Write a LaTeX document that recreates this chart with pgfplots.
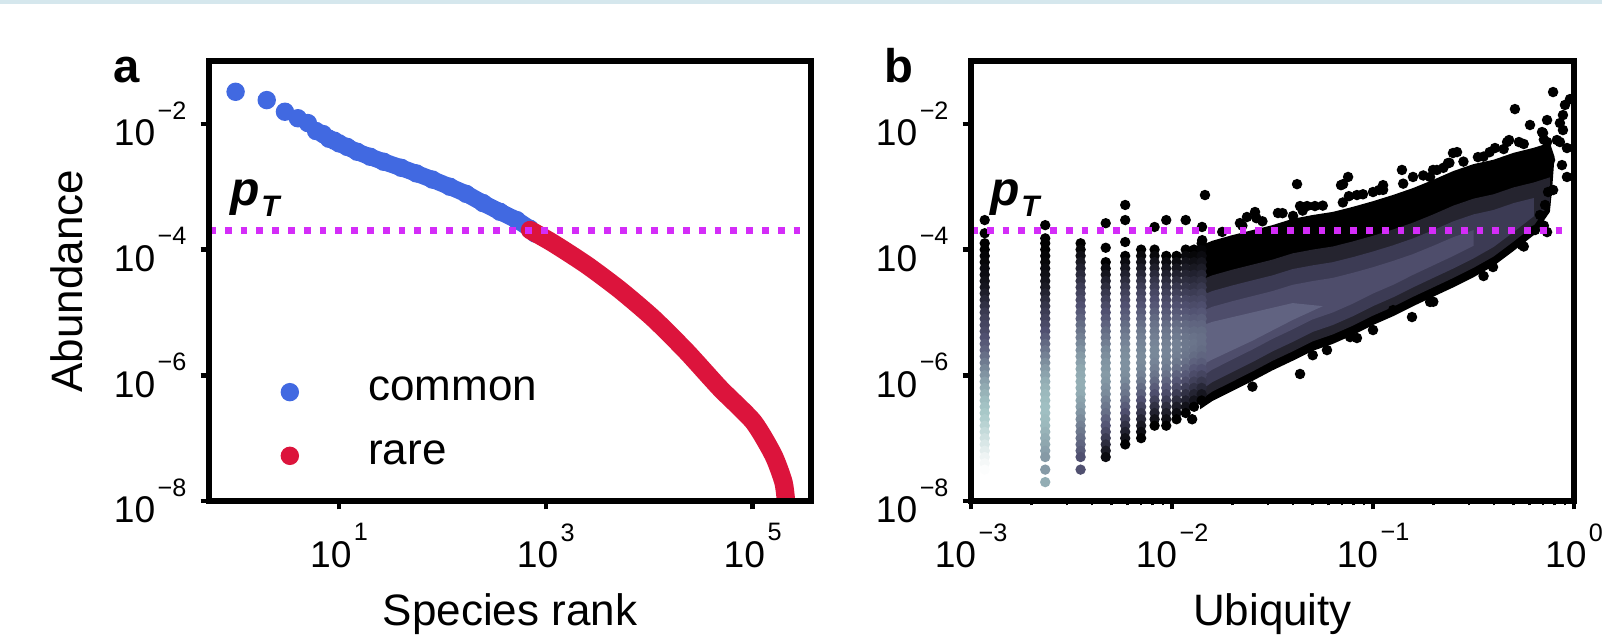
\documentclass[border=0pt]{standalone}
\usepackage{pgfplots}
\pgfplotsset{compat=1.18}
\usepackage{pgfplotstable}
\usepackage{fontspec}
\setmainfont{Liberation Sans}

\definecolor{common}{HTML}{4169E1}
\definecolor{rare}{HTML}{DC143C}
\definecolor{ptline}{HTML}{D42CF8}
\definecolor{topband}{HTML}{D5E7ED}
\definecolor{hexB}{HTML}{25242F}
\definecolor{hexC}{HTML}{3C3B54}
\definecolor{hexD}{HTML}{4E4D6B}
\definecolor{hexE}{HTML}{616381}

% 10 with a raised exponent, as matplotlib sets it
\newcommand{\tl}[1]{10\kern0.6pt\raisebox{6.6pt}{\fontsize{6.3}{6.3}\selectfont #1}}

\tikzset{ptl/.style={ptline, line width=1.75pt, dash pattern=on 1.7pt off 2.25pt}}

% right panel: ubiquity columns k/N (colour value c on the bone map)
\pgfplotstableread{
x y c
0.00117 2.95e-4 0
0.00117 1.82e-4 0
0.00117 1.26e-4 0
0.00117 1.00e-4 0
0.00117 7.94e-5 .02
0.00117 6.31e-5 .03
0.00117 5.01e-5 .05
0.00117 3.98e-5 .06
0.00117 3.16e-5 .08
0.00117 2.51e-5 .10
0.00117 2.00e-5 .14
0.00117 1.58e-5 .18
0.00117 1.26e-5 .22
0.00117 1.00e-5 .26
0.00117 7.94e-6 .29
0.00117 6.31e-6 .31
0.00117 5.01e-6 .33
0.00117 3.98e-6 .36
0.00117 3.16e-6 .39
0.00117 2.51e-6 .42
0.00117 2.00e-6 .46
0.00117 1.58e-6 .50
0.00117 1.26e-6 .54
0.00117 1.00e-6 .58
0.00117 7.94e-7 .62
0.00117 6.31e-7 .65
0.00117 5.01e-7 .68
0.00117 3.98e-7 .71
0.00117 3.16e-7 .73
0.00117 2.51e-7 .75
0.00117 2.00e-7 .77
0.00117 1.58e-7 .80
0.00117 1.26e-7 .83
0.00117 1.00e-7 .86
0.00117 7.94e-8 .89
0.00117 6.31e-8 .92
0.00117 5.01e-8 .95
0.00117 3.98e-8 .97
0.00117 3.16e-8 .99
0.00234 2.45e-4 0
0.00234 1.51e-4 0
0.00234 1.26e-4 0
0.00234 1.00e-4 0
0.00234 7.94e-5 .02
0.00234 6.31e-5 .03
0.00234 5.01e-5 .05
0.00234 3.98e-5 .07
0.00234 3.16e-5 .09
0.00234 2.51e-5 .12
0.00234 2.00e-5 .16
0.00234 1.58e-5 .20
0.00234 1.26e-5 .24
0.00234 1.00e-5 .27
0.00234 7.94e-6 .30
0.00234 6.31e-6 .33
0.00234 5.01e-6 .36
0.00234 3.98e-6 .40
0.00234 3.16e-6 .44
0.00234 2.51e-6 .48
0.00234 2.00e-6 .52
0.00234 1.58e-6 .56
0.00234 1.26e-6 .60
0.00234 1.00e-6 .63
0.00234 7.94e-7 .66
0.00234 6.31e-7 .68
0.00234 5.01e-7 .70
0.00234 3.98e-7 .71
0.00234 3.16e-7 .72
0.00234 2.51e-7 .72
0.00234 2.00e-7 .71
0.00234 1.58e-7 .70
0.00234 1.26e-7 .68
0.00234 1.00e-7 .66
0.00234 7.94e-8 .64
0.00234 6.31e-8 .62
0.00234 5.01e-8 .60
0.00234 3.16e-8 .60
0.00234 2.00e-8 .66
0.00351 1.26e-4 0
0.00351 1.00e-4 .03
0.00351 7.94e-5 .07
0.00351 6.31e-5 .11
0.00351 5.01e-5 .15
0.00351 3.98e-5 .19
0.00351 3.16e-5 .23
0.00351 2.51e-5 .27
0.00351 2.00e-5 .30
0.00351 1.58e-5 .33
0.00351 1.26e-5 .36
0.00351 1.00e-5 .39
0.00351 7.94e-6 .42
0.00351 6.31e-6 .45
0.00351 5.01e-6 .48
0.00351 3.98e-6 .51
0.00351 3.16e-6 .54
0.00351 2.51e-6 .57
0.00351 2.00e-6 .60
0.00351 1.58e-6 .62
0.00351 1.26e-6 .64
0.00351 1.00e-6 .65
0.00351 7.94e-7 .66
0.00351 6.31e-7 .66
0.00351 5.01e-7 .65
0.00351 3.98e-7 .63
0.00351 3.16e-7 .61
0.00351 2.51e-7 .58
0.00351 2.00e-7 .55
0.00351 1.58e-7 .52
0.00351 1.26e-7 .49
0.00351 1.00e-7 .46
0.00351 7.94e-8 .43
0.00351 6.31e-8 .40
0.00351 5.01e-8 .36
0.00351 3.16e-8 .36
0.00468 2.63e-4 0
0.00468 1.07e-4 0
0.00468 6.31e-5 0
0.00468 5.01e-5 .05
0.00468 3.98e-5 .10
0.00468 3.16e-5 .15
0.00468 2.51e-5 .20
0.00468 2.00e-5 .25
0.00468 1.58e-5 .29
0.00468 1.26e-5 .33
0.00468 1.00e-5 .36
0.00468 7.94e-6 .39
0.00468 6.31e-6 .42
0.00468 5.01e-6 .45
0.00468 3.98e-6 .48
0.00468 3.16e-6 .51
0.00468 2.51e-6 .54
0.00468 2.00e-6 .56
0.00468 1.58e-6 .58
0.00468 1.26e-6 .59
0.00468 1.00e-6 .60
0.00468 7.94e-7 .59
0.00468 6.31e-7 .57
0.00468 5.01e-7 .55
0.00468 3.98e-7 .52
0.00468 3.16e-7 .49
0.00468 2.51e-7 .46
0.00468 2.00e-7 .42
0.00468 1.58e-7 .38
0.00468 1.26e-7 .33
0.00468 1.00e-7 .27
0.00468 7.94e-8 .20
0.00468 6.31e-8 .12
0.00468 5.01e-8 .05
0.00585 5.13e-4 0
0.00585 2.95e-4 0
0.00585 1.32e-4 0
0.00585 7.94e-5 0
0.00585 6.31e-5 .05
0.00585 5.01e-5 .10
0.00585 3.98e-5 .15
0.00585 3.16e-5 .20
0.00585 2.51e-5 .25
0.00585 2.00e-5 .29
0.00585 1.58e-5 .33
0.00585 1.26e-5 .36
0.00585 1.00e-5 .39
0.00585 7.94e-6 .42
0.00585 6.31e-6 .45
0.00585 5.01e-6 .48
0.00585 3.98e-6 .51
0.00585 3.16e-6 .53
0.00585 2.51e-6 .55
0.00585 2.00e-6 .56
0.00585 1.58e-6 .57
0.00585 1.26e-6 .57
0.00585 1.00e-6 .56
0.00585 7.94e-7 .54
0.00585 6.31e-7 .51
0.00585 5.01e-7 .48
0.00585 3.98e-7 .44
0.00585 3.16e-7 .40
0.00585 2.51e-7 .35
0.00585 2.00e-7 .29
0.00585 1.58e-7 .22
0.00585 1.26e-7 .15
0.00585 1.00e-7 .08
0.00585 7.94e-8 0
0.00702 1.00e-4 0
0.00702 7.94e-5 .04
0.00702 6.31e-5 .08
0.00702 5.01e-5 .13
0.00702 3.98e-5 .18
0.00702 3.16e-5 .23
0.00702 2.51e-5 .27
0.00702 2.00e-5 .31
0.00702 1.58e-5 .34
0.00702 1.26e-5 .37
0.00702 1.00e-5 .40
0.00702 7.94e-6 .43
0.00702 6.31e-6 .46
0.00702 5.01e-6 .49
0.00702 3.98e-6 .51
0.00702 3.16e-6 .53
0.00702 2.51e-6 .54
0.00702 2.00e-6 .55
0.00702 1.58e-6 .55
0.00702 1.26e-6 .54
0.00702 1.00e-6 .52
0.00702 7.94e-7 .49
0.00702 6.31e-7 .45
0.00702 5.01e-7 .41
0.00702 3.98e-7 .36
0.00702 3.16e-7 .30
0.00702 2.51e-7 .24
0.00702 2.00e-7 .17
0.00702 1.58e-7 .11
0.00702 1.26e-7 .05
0.00702 1.00e-7 0
0.00819 2.29e-4 0
0.00819 1.00e-4 0
0.00819 7.94e-5 .04
0.00819 6.31e-5 .09
0.00819 5.01e-5 .14
0.00819 3.98e-5 .19
0.00819 3.16e-5 .24
0.00819 2.51e-5 .28
0.00819 2.00e-5 .32
0.00819 1.58e-5 .35
0.00819 1.26e-5 .38
0.00819 1.00e-5 .41
0.00819 7.94e-6 .44
0.00819 6.31e-6 .47
0.00819 5.01e-6 .49
0.00819 3.98e-6 .51
0.00819 3.16e-6 .53
0.00819 2.51e-6 .54
0.00819 2.00e-6 .54
0.00819 1.58e-6 .53
0.00819 1.26e-6 .51
0.00819 1.00e-6 .48
0.00819 7.94e-7 .44
0.00819 6.31e-7 .40
0.00819 5.01e-7 .35
0.00819 3.98e-7 .29
0.00819 3.16e-7 .22
0.00819 2.51e-7 .15
0.00819 2.00e-7 .08
0.00819 1.58e-7 0
0.00936 2.95e-4 0
0.00936 7.94e-5 0
0.00936 6.31e-5 .05
0.00936 5.01e-5 .10
0.00936 3.98e-5 .15
0.00936 3.16e-5 .20
0.00936 2.51e-5 .25
0.00936 2.00e-5 .29
0.00936 1.58e-5 .33
0.00936 1.26e-5 .36
0.00936 1.00e-5 .39
0.00936 7.94e-6 .42
0.00936 6.31e-6 .45
0.00936 5.01e-6 .48
0.00936 3.98e-6 .50
0.00936 3.16e-6 .52
0.00936 2.51e-6 .53
0.00936 2.00e-6 .53
0.00936 1.58e-6 .52
0.00936 1.26e-6 .50
0.00936 1.00e-6 .47
0.00936 7.94e-7 .43
0.00936 6.31e-7 .39
0.00936 5.01e-7 .34
0.00936 3.98e-7 .28
0.00936 3.16e-7 .21
0.00936 2.51e-7 .14
0.00936 2.00e-7 .07
0.00936 1.58e-7 0
0.01053 7.94e-5 0
0.01053 6.31e-5 .05
0.01053 5.01e-5 .10
0.01053 3.98e-5 .15
0.01053 3.16e-5 .20
0.01053 2.51e-5 .25
0.01053 2.00e-5 .29
0.01053 1.58e-5 .33
0.01053 1.26e-5 .36
0.01053 1.00e-5 .39
0.01053 7.94e-6 .42
0.01053 6.31e-6 .45
0.01053 5.01e-6 .48
0.01053 3.98e-6 .50
0.01053 3.16e-6 .52
0.01053 2.51e-6 .52
0.01053 2.00e-6 .51
0.01053 1.58e-6 .49
0.01053 1.26e-6 .46
0.01053 1.00e-6 .42
0.01053 7.94e-7 .38
0.01053 6.31e-7 .33
0.01053 5.01e-7 .27
0.01053 3.98e-7 .20
0.01053 3.16e-7 .13
0.01053 2.51e-7 .06
0.01053 2.00e-7 0
0.0117 1.00e-4 0
0.0117 7.94e-5 .04
0.0117 6.31e-5 .08
0.0117 5.01e-5 .12
0.0117 3.98e-5 .16
0.0117 3.16e-5 .20
0.0117 2.51e-5 .24
0.0117 2.00e-5 .28
0.0117 1.58e-5 .32
0.0117 1.26e-5 .35
0.0117 1.00e-5 .38
0.0117 7.94e-6 .41
0.0117 6.31e-6 .44
0.0117 5.01e-6 .46
0.0117 3.98e-6 .48
0.0117 3.16e-6 .49
0.0117 2.51e-6 .49
0.0117 2.00e-6 .48
0.0117 1.58e-6 .46
0.0117 1.26e-6 .43
0.0117 1.00e-6 .39
0.0117 7.94e-7 .34
0.0117 6.31e-7 .28
0.0117 5.01e-7 .22
0.0117 3.98e-7 .15
0.0117 3.16e-7 .08
0.0117 2.51e-7 0
0.01287 1.00e-4 0
0.01287 7.94e-5 .03
0.01287 6.31e-5 .07
0.01287 5.01e-5 .11
0.01287 3.98e-5 .15
0.01287 3.16e-5 .19
0.01287 2.51e-5 .23
0.01287 2.00e-5 .27
0.01287 1.58e-5 .31
0.01287 1.26e-5 .34
0.01287 1.00e-5 .37
0.01287 7.94e-6 .40
0.01287 6.31e-6 .43
0.01287 5.01e-6 .45
0.01287 3.98e-6 .47
0.01287 3.16e-6 .48
0.01287 2.51e-6 .47
0.01287 2.00e-6 .45
0.01287 1.58e-6 .42
0.01287 1.26e-6 .38
0.01287 1.00e-6 .34
0.01287 7.94e-7 .29
0.01287 6.31e-7 .23
0.01287 5.01e-7 .16
0.01287 3.98e-7 .09
0.01287 3.16e-7 0
0.01404 1.26e-4 0
0.01404 1.00e-4 .02
0.01404 7.94e-5 .05
0.01404 6.31e-5 .09
0.01404 5.01e-5 .13
0.01404 3.98e-5 .17
0.01404 3.16e-5 .21
0.01404 2.51e-5 .25
0.01404 2.00e-5 .29
0.01404 1.58e-5 .32
0.01404 1.26e-5 .35
0.01404 1.00e-5 .38
0.01404 7.94e-6 .41
0.01404 6.31e-6 .43
0.01404 5.01e-6 .45
0.01404 3.98e-6 .46
0.01404 3.16e-6 .46
0.01404 2.51e-6 .45
0.01404 2.00e-6 .43
0.01404 1.58e-6 .40
0.01404 1.26e-6 .36
0.01404 1.00e-6 .31
0.01404 7.94e-7 .25
0.01404 6.31e-7 .18
0.01404 5.01e-7 .10
0.01404 3.98e-7 0
}\colsdata

% right panel: sparse black points around the dense cloud
\pgfplotstableread{
x y
0.0117 2.95e-4
0.0141 2.29e-4
0.01459 7.38e-4
0.01413 1.41e-4
0.01778 1.91e-4
0.02178 2.64e-4
0.02239 2.40e-4
0.02360 3.30e-4
0.02588 3.96e-4
0.02630 3.16e-4
0.02818 2.82e-4
0.03365 3.82e-4
0.03548 3.80e-4
0.04000 3.43e-4
0.04188 1.10e-3
0.04335 4.93e-4
0.04467 4.17e-4
0.04699 4.93e-4
0.05140 4.93e-4
0.05623 5.01e-4
0.06934 1.06e-3
0.07079 5.62e-4
0.07096 1.10e-3
0.07516 1.43e-3
0.07586 7.08e-4
0.08318 7.38e-4
0.08913 7.59e-4
0.1000 8.24e-4
0.1072 8.87e-4
0.1122 1.06e-3
0.1122 8.91e-4
0.1393 1.85e-3
0.1413 1.12e-3
0.1581 1.43e-3
0.1778 1.51e-3
0.1923 1.43e-3
0.1990 1.85e-3
0.2080 1.85e-3
0.2239 2.00e-3
0.2361 2.38e-3
0.2399 2.40e-3
0.2500 3.44e-3
0.2618 3.56e-3
0.2818 2.51e-3
0.3327 2.96e-3
0.3548 3.02e-3
0.3802 3.55e-3
0.4045 4.13e-3
0.4467 3.98e-3
0.4645 5.14e-3
0.4753 5.53e-3
0.5082 1.72e-2
0.5321 5.14e-3
0.5623 4.79e-3
0.6040 9.60e-3
0.6934 7.41e-3
0.7015 7.14e-3
0.7079 5.62e-3
0.7345 5.14e-3
0.7345 1.15e-2
0.7870 3.21e-2
0.8220 5.53e-3
0.8511 1.03e-2
0.8810 7.98e-3
0.8810 1.38e-2
0.8511 5.14e-3
0.9016 2.00e-2
0.9226 4.13e-3
0.9550 2.48e-2
0.7600 2.66e-3
0.8710 2.21e-3
0.9226 1.43e-3
0.7430 8.24e-4
0.7870 8.87e-4
0.7180 5.12e-4
0.6776 3.55e-4
0.6397 2.05e-4
0.7345 1.90e-4
0.7079 2.40e-4
0.5623 1.12e-4
0.5508 1.18e-4
0.3953 5.28e-5
0.3548 3.80e-5
0.1995 1.48e-5
0.1923 1.47e-5
0.1563 8.45e-6
0.1259 1.09e-5
0.1 5.25e-6
0.08318 3.92e-6
0.07691 4.06e-6
0.05902 2.52e-6
0.05012 2.09e-6
0.04335 1.05e-6
0.02512 6.61e-7
0.01259 2.00e-7
}\outdata

\begin{document}
\begin{tikzpicture}[x=1pt,y=1pt]
\useasboundingbox (0,0) rectangle (400.5,159.25);
\fill[topband] (0,158.2) rectangle (400.5,159.25);

\begin{axis}[
  scale only axis, width=150.5pt, height=110pt,
  at={(52.25pt,34pt)}, anchor=south west,
  xmode=log, ymode=log,
  xmin=0.553, xmax=3.67e5, ymin=1e-8, ymax=1e-1,
  xtick={10,1000,100000}, xticklabels={\tl{1},\tl{3},\tl{5}},
  ytick={1e-8,1e-6,1e-4,1e-2},
  yticklabels={\tl{−8},\tl{−6},\tl{−4},\tl{−2}},
  minor x tick num=0, minor y tick num=0,
  axis on top,
  axis line style={line width=1.3pt},
  tick align=outside, tick pos=left,
  major tick length=2.1pt, minor tick length=1.1pt,
  major tick style={line width=1.1pt, black},
  tick label style={font=\fontsize{9.3}{9.3}\selectfont},
  xlabel={Species rank}, ylabel={Abundance},
  every axis x label/.style={at={(rel axis cs:0.5,-0.282)}, anchor=base,
    font=\fontsize{11}{11}\selectfont},
  every axis y label/.style={at={(rel axis cs:-0.21,0.5)}, rotate=90, anchor=base,
    font=\fontsize{11}{11}\selectfont},
  clip mode=individual,
  legend style={at={(rel axis cs:0.119,0.283)}, anchor=north west, draw=none, fill=none,
    inner sep=0pt, row sep=8.5pt, nodes={inner sep=0pt},
    font=\fontsize{11}{11}\selectfont,
    /tikz/every odd column/.append style={column sep=17.5pt}},
  legend cell align=left,
  legend image code/.code={\draw[#1] plot coordinates {(0pt,0pt)};},
]
\addlegendimage{only marks, mark=*, mark size=2.1pt, common}
\addlegendentry{common}
\addlegendimage{only marks, mark=*, mark size=2.1pt, rare}
\addlegendentry{rare}

\addplot[forget plot, only marks, mark=*, mark size=2.1pt, common] coordinates {
  (1,0.0324) (2,0.0239) (3,0.0156) (4,0.0123) (5,0.0103) (6,0.0077) (7,0.0069)
  (8,0.0058) (9,0.0054) (10,0.0049) (12,0.0043) (15,0.0036) (20,0.0030) (27,0.0025)
  (40,0.0020) (56,0.00163) (80,0.0013) (118,0.0010) (170,7.7e-4) (247,5.5e-4)
  (360,4.0e-4) (523,2.95e-4) (700,2.15e-4) (790,1.8e-4)};
\addplot[forget plot, common, line width=4.2pt, line cap=round, line join=round,
  smooth, tension=0.4] coordinates {
  (7,0.0069) (8,0.0058) (9,0.0054) (10,0.0049) (12,0.0043) (15,0.0036) (20,0.0030)
  (27,0.0025) (40,0.0020) (56,0.00163) (80,0.0013) (118,0.0010) (170,7.7e-4)
  (247,5.5e-4) (360,4.0e-4) (523,2.95e-4) (700,2.15e-4) (790,1.8e-4)};
\addplot[forget plot, rare, line width=4.6pt, line cap=round, line join=round,
  smooth, tension=0.4] coordinates {
  (703,2.05e-4) (1180,1.26e-4) (2489,5.68e-5) (5224,2.28e-5) (10965,8.05e-6)
  (23070,2.37e-6) (48420,6.21e-7) (101600,1.83e-7) (158500,5.40e-8)
  (198200,2.03e-8) (210400,1.0e-8) (218800,5.0e-9)};
\addplot[forget plot, ptl] coordinates {(0.553,2e-4) (3.67e5,2e-4)};
\end{axis}

\begin{axis}[
  scale only axis, width=150.75pt, height=110pt,
  at={(242.75pt,34pt)}, anchor=south west,
  xmode=log, ymode=log,
  xmin=1e-3, xmax=1, ymin=1e-8, ymax=1e-1,
  xtick={1e-3,1e-2,1e-1,1}, xticklabels={\tl{−3},\tl{−2},\tl{−1},\tl{0}},
  minor xtick={0.002,0.003,0.004,0.005,0.006,0.007,0.008,0.009,
    0.02,0.03,0.04,0.05,0.06,0.07,0.08,0.09,0.2,0.3,0.4,0.5,0.6,0.7,0.8,0.9},
  ytick={1e-8,1e-6,1e-4,1e-2},
  yticklabels={\tl{−8},\tl{−6},\tl{−4},\tl{−2}},
  minor y tick num=0,
  axis on top,
  axis line style={line width=1.3pt},
  tick align=outside, tick pos=left,
  major tick length=2.1pt, minor tick length=1.1pt,
  major tick style={line width=1.1pt, black},
  minor tick style={line width=0.55pt, black},
  tick label style={font=\fontsize{9.3}{9.3}\selectfont},
  xlabel={Ubiquity},
  every axis x label/.style={at={(rel axis cs:0.5,-0.282)}, anchor=base,
    font=\fontsize{11}{11}\selectfont},
  clip mode=individual,
  colormap={bone}{rgb(0cm)=(0,0,0); rgb(3.65cm)=(0.319,0.319,0.444);
    rgb(7.46cm)=(0.652,0.782,0.782); rgb(10cm)=(1,1,1)},
  point meta min=0, point meta max=1,
]
% dense cloud, outer envelope to core
\addplot[forget plot, fill=black, draw=none] coordinates {
  (0.0138,1.15e-4) (0.01585,1.38e-4) (0.01995,1.70e-4) (0.02512,2.04e-4)
  (0.03162,2.45e-4) (0.03981,3.09e-4) (0.05012,3.55e-4) (0.06310,3.98e-4) (0.07943,4.79e-4)
  (0.1,5.89e-4) (0.1259,7.41e-4) (0.1585,9.55e-4) (0.1995,1.29e-3) (0.2512,1.78e-3)
  (0.3162,2.29e-3) (0.3981,2.69e-3) (0.5012,3.47e-3) (0.6310,4.17e-3) (0.7586,5.01e-3)
  (0.80,3.0e-3) (0.78,1.0e-3)
  (0.7586,3.98e-4) (0.6310,1.70e-4) (0.5012,9.55e-5) (0.3981,5.50e-5) (0.3162,3.63e-5)
  (0.2512,2.51e-5) (0.1995,1.78e-5) (0.1585,1.26e-5) (0.1259,8.71e-6) (0.1,6.31e-6)
  (0.07943,4.37e-6) (0.06310,3.16e-6) (0.05012,2.45e-6) (0.03981,1.70e-6) (0.03162,1.20e-6)
  (0.02512,8.13e-7) (0.01995,5.62e-7) (0.01585,3.89e-7) (0.0138,2.88e-7)};
\addplot[forget plot, fill=hexB, draw=none] coordinates {
  (0.0138,3.24e-5) (0.01585,3.89e-5) (0.01995,4.79e-5) (0.02512,5.75e-5)
  (0.03162,6.92e-5) (0.03981,8.71e-5) (0.05012,1.00e-4) (0.06310,1.12e-4) (0.07943,1.35e-4)
  (0.1,1.66e-4) (0.1259,2.09e-4) (0.1585,2.69e-4) (0.1995,3.63e-4) (0.2512,5.01e-4)
  (0.3162,6.46e-4) (0.3981,7.59e-4) (0.5012,9.77e-4) (0.6310,1.17e-3) (0.7586,1.41e-3)
  (0.7586,5.62e-4) (0.6310,2.40e-4) (0.5012,1.35e-4) (0.3981,7.76e-5) (0.3162,5.13e-5)
  (0.2512,3.55e-5) (0.1995,2.51e-5) (0.1585,1.78e-5) (0.1259,1.23e-5) (0.1,8.91e-6)
  (0.07943,6.17e-6) (0.06310,4.47e-6) (0.05012,3.47e-6) (0.03981,2.40e-6) (0.03162,1.70e-6)
  (0.02512,1.15e-6) (0.01995,7.94e-7) (0.01585,5.50e-7) (0.0138,4.07e-7)};
\addplot[forget plot, fill=hexC, draw=none] coordinates {
  (0.0138,1.82e-5) (0.01585,2.19e-5) (0.01995,2.69e-5) (0.02512,3.24e-5)
  (0.03162,3.89e-5) (0.03981,4.90e-5) (0.05012,5.62e-5) (0.06310,6.31e-5) (0.07943,7.59e-5)
  (0.1,9.33e-5) (0.1259,1.17e-4) (0.1585,1.51e-4) (0.1995,2.04e-4) (0.2512,2.82e-4)
  (0.3162,3.63e-4) (0.3981,4.27e-4) (0.5012,5.50e-4) (0.6310,6.61e-4)
  (0.6310,3.39e-4) (0.5012,1.91e-4) (0.3981,1.10e-4) (0.3162,7.24e-5) (0.2512,5.01e-5)
  (0.1995,3.55e-5) (0.1585,2.51e-5) (0.1259,1.74e-5) (0.1,1.26e-5) (0.07943,8.71e-6)
  (0.06310,6.31e-6) (0.05012,4.90e-6) (0.03981,3.39e-6) (0.03162,2.40e-6) (0.02512,1.62e-6)
  (0.01995,1.12e-6) (0.01585,7.76e-7) (0.0138,5.75e-7)};
\addplot[forget plot, fill=hexD, draw=none] coordinates {
  (0.0138,1.02e-5) (0.01585,1.23e-5) (0.01995,1.51e-5) (0.02512,1.82e-5)
  (0.03162,2.19e-5) (0.03981,2.75e-5) (0.05012,3.16e-5) (0.06310,3.55e-5) (0.07943,4.27e-5)
  (0.1,5.25e-5) (0.1259,6.61e-5) (0.1585,8.51e-5) (0.1995,1.15e-4) (0.2512,1.58e-4)
  (0.3162,2.04e-4)
  (0.3162,1.15e-4) (0.2512,7.94e-5) (0.1995,5.62e-5) (0.1585,3.98e-5) (0.1259,2.75e-5)
  (0.1,2.00e-5) (0.07943,1.38e-5) (0.06310,1.00e-5) (0.05012,7.76e-6) (0.03981,5.37e-6)
  (0.03162,3.80e-6) (0.02512,2.57e-6) (0.01995,1.78e-6) (0.01585,1.23e-6) (0.0138,9.12e-7)};
\addplot[forget plot, fill=hexE, draw=none] coordinates {
  (0.0138,6.03e-6) (0.01585,7.08e-6) (0.02512,1.0e-5) (0.03981,1.41e-5) (0.05623,1.26e-5)
  (0.03981,7.59e-6) (0.02512,3.55e-6) (0.01585,1.78e-6) (0.0138,1.41e-6)};

\addplot[forget plot, scatter, only marks, mark=*, mark size=1.3pt, point meta=explicit,
  scatter/use mapped color={draw opacity=0, fill=mapped color}]
  table[x=x, y=y, meta=c] {\colsdata};
\addplot[forget plot, only marks, mark=*, mark size=1.1pt, black] table[x=x, y=y] {\outdata};
\addplot[forget plot, ptl] coordinates {(1e-3,2e-4) (1,2e-4)};
\end{axis}

\node[anchor=base west, inner sep=0pt, font=\fontsize{11.8}{11.8}\selectfont\bfseries] at (28.25,138.75) {a};
\node[anchor=base west, inner sep=0pt, font=\fontsize{11.8}{11.8}\selectfont\bfseries] at (221,138.75) {b};
\node[anchor=base west, inner sep=0pt, font=\fontsize{12}{12}\selectfont\bfseries\itshape] at (57.5,108)
  {p\kern0.3pt\raisebox{-2.8pt}{\fontsize{7.4}{7.4}\selectfont T}};
\node[anchor=base west, inner sep=0pt, font=\fontsize{12}{12}\selectfont\bfseries\itshape] at (247.5,108)
  {p\kern0.3pt\raisebox{-2.8pt}{\fontsize{7.4}{7.4}\selectfont T}};
\end{tikzpicture}
\end{document}
